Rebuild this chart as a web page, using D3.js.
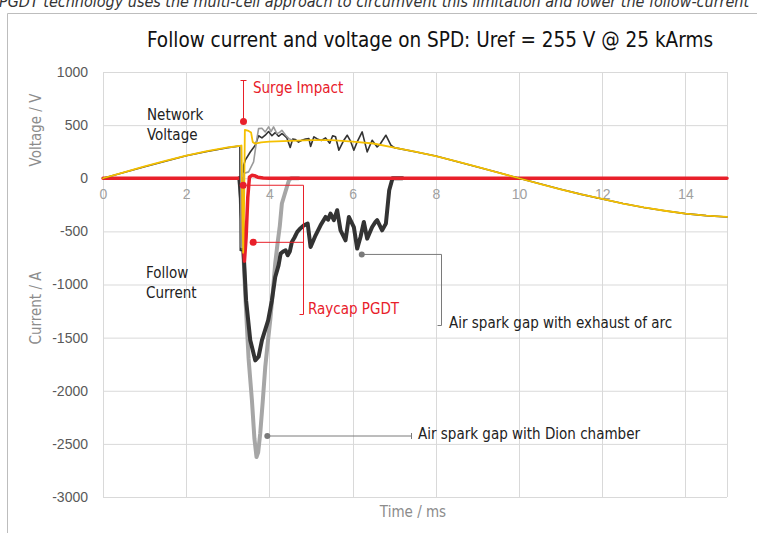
<!DOCTYPE html>
<html>
<head>
<meta charset="utf-8">
<script src="https://cdn.jsdelivr.net/npm/d3@7"></script>
<style>
  html, body { margin: 0; padding: 0; background: #fff; overflow: hidden; }
  svg { display: block; font-family: "DejaVu Sans Condensed", "Liberation Sans Narrow", sans-serif; }
</style>
</head>
<body>
<div id="chart"></div>
<script>
// ── Data ──────────────────────────────────────────────────────
const X_TICKS = [0, 2, 4, 6, 8, 10, 12, 14];
const Y_TICKS = [1000, 500, 0, -500, -1000, -1500, -2000, -2500, -3000];

// Raycap PGDT voltage (yellow, thin)  [ms, V]
const pgdtVoltage = [
  [0, 0], [0.5, 56], [1, 111], [1.5, 163], [2, 214], [2.5, 255], [3, 290], [3.33, 308],
  [3.35, -300], [3.37, -700], [3.39, -300], [3.41, 455], [3.5, 445], [3.56, 430],
  [3.6, 340], [3.66, 326], [3.8, 338], [4, 345], [4.5, 352], [5, 358], [5.5, 358],
  [6, 345], [6.5, 327], [7, 288], [7.5, 250], [8, 209], [8.5, 158], [9, 106],
  [9.5, 54], [10, 0], [10.5, -52], [11, -104], [11.5, -152], [12, -195], [12.5, -238],
  [13, -275], [13.5, -306], [14, -333], [14.5, -352], [15, -364]
];

// Air spark gap with exhaust of arc, voltage (dark, thin)
const exhaustVoltage = [
  [0, 0], [0.5, 54], [1, 108], [1.5, 160], [2, 211], [2.5, 252], [3, 287], [3.29, 304],
  [3.3, -680], [3.36, -680], [3.38, 120], [3.42, 170], [3.54, 247], [3.66, 310],
  [3.74, 400], [3.82, 380], [3.9, 405], [3.98, 440], [4.06, 400], [4.14, 430],
  [4.22, 395], [4.3, 420], [4.35, 405], [4.42, 380], [4.5, 290], [4.56, 370],
  [4.62, 365], [4.7, 340], [4.78, 358], [4.87, 370], [4.95, 373], [4.99, 300],
  [5.07, 390], [5.15, 370], [5.25, 355], [5.35, 380], [5.45, 330], [5.52, 400],
  [5.59, 390], [5.67, 264], [5.79, 358], [5.87, 405], [5.95, 350], [6.03, 264],
  [6.11, 342], [6.23, 436], [6.35, 248], [6.47, 358], [6.59, 295], [6.66, 320],
  [6.8, 405], [6.92, 311], [7, 288], [7.5, 250], [8, 209], [8.5, 158], [9, 106],
  [9.5, 54], [10, 0], [10.5, -52], [11, -104], [11.5, -152], [12, -195], [12.5, -238],
  [13, -275], [13.5, -306], [14, -333], [14.5, -352], [15, -364]
];

// Air spark gap with Dion chamber, voltage (grey, thin)
const dionVoltage = [
  [3, 290], [3.31, 306], [3.32, -650], [3.36, -650], [3.38, 44], [3.5, 60],
  [3.62, 154], [3.7, 373], [3.74, 467], [3.82, 470], [3.9, 436], [3.98, 483],
  [4.04, 440], [4.1, 483], [4.18, 420], [4.24, 430], [4.3, 452], [4.39, 405],
  [4.47, 373], [4.55, 358]
];

// Raycap PGDT current (red, thick)  [ms, A]
const pgdtCurrent = [
  [0, 0], [3.33, 0], [3.36, -450], [3.4, -780], [3.44, -560], [3.48, -180],
  [3.52, 10], [3.58, 28], [3.64, 24], [3.72, 10], [3.85, 3], [4, 0], [15, 0]
];

// Air spark gap with exhaust of arc, current (dark, thick)
const exhaustCurrent = [
  [3.28, 0], [3.32, -200], [3.38, -700], [3.44, -1150], [3.54, -1525], [3.66, -1714],
  [3.74, -1680], [3.82, -1525], [3.97, -1337], [4.06, -1149], [4.14, -929],
  [4.22, -820], [4.27, -709], [4.33, -690], [4.39, -678], [4.44, -725], [4.49, -690],
  [4.54, -600], [4.6, -560], [4.67, -505], [4.75, -470], [4.83, -443], [4.92, -427],
  [4.99, -647], [5.11, -537], [5.23, -443], [5.35, -364], [5.41, -390], [5.47, -333],
  [5.55, -395], [5.63, -301], [5.71, -490], [5.83, -584], [5.91, -364], [6.03, -459],
  [6.11, -662], [6.19, -553], [6.27, -411], [6.35, -568], [6.47, -459], [6.55, -411],
  [6.59, -395], [6.71, -490], [6.8, -427], [6.88, -113], [6.96, 0], [7.2, 0]
];

// Air spark gap with Dion chamber, current (grey, thick)
const dionCurrent = [
  [3.28, 0], [3.34, -400], [3.42, -1100], [3.5, -1700], [3.58, -2090], [3.64, -2450],
  [3.69, -2624], [3.73, -2580], [3.78, -2400], [3.84, -2100], [3.9, -1777],
  [3.96, -1550], [4.02, -1337], [4.08, -1080], [4.14, -800], [4.2, -600],
  [4.25, -450], [4.3, -238], [4.36, -160], [4.42, -82], [4.47, -19], [4.52, 0], [4.7, 0]
];

// Annotation anchors in data units
const surgeDot = [3.36, 535];
const pgdtDots = [[3.37, -66], [3.61, -603]];
const exhaustDot = [6.22, -717];
const dionDot = [3.95, -2426];

// ── Layout ────────────────────────────────────────────────────
const W = 757, H = 533;
const plot = { left: 103, right: 727, top: 72, bottom: 497 };

const svg = d3.select("#chart").append("svg")
  .attr("width", W)
  .attr("height", H);

const x = d3.scaleLinear().domain([0, 15]).range([plot.left, plot.right]);
const y = d3.scaleLinear().domain([-3000, 1000]).range([plot.bottom, plot.top]);

// intro line, cut off at the top of the page like in the source
svg.append("text")
  .attr("x", -1).attr("y", 7)
  .style("font-style", "italic")
  .style("font-size", "16px")
  .style("fill", "#333")
  .text("PGDT technology uses the multi-cell approach to circumvent this limitation and lower the follow-current");

// frame of the figure
svg.append("path")
  .attr("d", `M7.5,${H}V13.5H${W}`)
  .style("fill", "none")
  .style("stroke", "#bdbdbd");

// title
svg.append("text")
  .attr("x", 430).attr("y", 47)
  .attr("text-anchor", "middle")
  .style("font-size", "20.5px")
  .style("fill", "#111")
  .text("Follow current and voltage on SPD: Uref = 255 V @ 25 kArms");

// ── Grid ──────────────────────────────────────────────────────
const grid = svg.append("g").attr("class", "grid");
grid.selectAll("line.h")
  .data(Y_TICKS)
  .join("line")
  .attr("class", "h")
  .attr("x1", plot.left).attr("x2", plot.right)
  .attr("y1", d => y(d) + 0.5).attr("y2", d => y(d) + 0.5);
grid.selectAll("line.v")
  .data(X_TICKS.concat([15]))
  .join("line")
  .attr("class", "v")
  .attr("x1", d => Math.round(x(d)) + 0.5).attr("x2", d => Math.round(x(d)) + 0.5)
  .attr("y1", plot.top).attr("y2", plot.bottom);
grid.selectAll("line")
  .style("stroke", "#d9d9d9")
  .style("stroke-width", 1);

// ── Axes ──────────────────────────────────────────────────────
const plain = d => String(d);   // "-500", not "−500" / "1,000"

const yAxis = svg.append("g")
  .attr("transform", `translate(${plot.left},0)`)
  .call(d3.axisLeft(y).tickValues(Y_TICKS).tickFormat(plain).tickSize(0).tickPadding(15));
yAxis.select(".domain").remove();
yAxis.selectAll("text")
  .style("font-family", "inherit")
  .style("font-size", "14px")
  .style("fill", "#595959");

const xAxis = svg.append("g")
  .attr("transform", `translate(0,${y(0)})`)
  .call(d3.axisBottom(x).tickValues(X_TICKS).tickFormat(plain).tickSize(0).tickPadding(11));
xAxis.select(".domain").remove();
xAxis.selectAll("text")
  .style("font-family", "inherit")
  .style("font-size", "14px")
  .style("fill", "#a0a0a0");

// axis titles
svg.append("text")
  .attr("transform", "translate(41,130) rotate(-90)")
  .attr("text-anchor", "middle")
  .style("font-size", "15px").style("fill", "#8c8c8c")
  .text("Voltage / V");
svg.append("text")
  .attr("transform", "translate(41,308) rotate(-90)")
  .attr("text-anchor", "middle")
  .style("font-size", "15px").style("fill", "#8c8c8c")
  .text("Current / A");
svg.append("text")
  .attr("x", 413).attr("y", 517)
  .attr("text-anchor", "middle")
  .style("font-size", "15px").style("fill", "#8c8c8c")
  .text("Time / ms");

// ── Series ────────────────────────────────────────────────────
const line = d3.line().x(d => x(d[0])).y(d => y(d[1]));
const series = [
  { data: dionCurrent, color: "#a6a6a6", width: 4 },
  { data: exhaustCurrent, color: "#333333", width: 4 },
  { data: pgdtCurrent, color: "#e8202a", width: 3.5 },
  { data: exhaustVoltage, color: "#333333", width: 1.6 },
  { data: dionVoltage, color: "#9a9a9a", width: 1.6 },
  { data: pgdtVoltage, color: "#f5c000", width: 1.8 }
];
svg.append("g")
  .selectAll("path")
  .data(series)
  .join("path")
  .attr("d", d => line(d.data))
  .style("fill", "none")
  .style("stroke", d => d.color)
  .style("stroke-width", d => d.width)
  .style("stroke-linejoin", "round")
  .style("stroke-linecap", "round");

// ── Annotations ───────────────────────────────────────────────
const RED = "#e8202a", LEAD = "#7a7a7a";
const ann = svg.append("g");

function label(tx, ty, lines, color) {
  const t = ann.append("text")
    .attr("x", tx).attr("y", ty)
    .style("font-size", "15px")
    .style("fill", color);
  lines.forEach((s, i) => t.append("tspan").attr("x", tx).attr("dy", i ? 20 : 0).text(s));
}

// Surge impact
const sx = Math.round(x(surgeDot[0])) + 0.5;
ann.append("path")
  .attr("d", `M${sx - 3},80.5H${sx + 3}M${sx},80.5V${y(surgeDot[1])}`)
  .style("stroke", RED).style("fill", "none");
ann.append("circle").attr("cx", sx).attr("cy", y(surgeDot[1])).attr("r", 3.5).style("fill", RED);
label(253, 93, ["Surge Impact"], RED);

// Raycap PGDT bracket
const bx = 303.5;
ann.append("path")
  .attr("d", `M${x(pgdtDots[0][0])},${y(pgdtDots[0][1])}H${bx}V314.5H${bx - 4}` +
             `M${x(pgdtDots[1][0])},${y(pgdtDots[1][1])}H${bx}`)
  .style("stroke", RED).style("fill", "none");
ann.selectAll("circle.pg")
  .data(pgdtDots)
  .join("circle")
  .attr("class", "pg")
  .attr("cx", d => x(d[0])).attr("cy", d => y(d[1])).attr("r", 3.5)
  .style("fill", RED);
label(308, 314, ["Raycap PGDT"], RED);

// Air spark gap with exhaust of arc
const ex = 441.5;
ann.append("path")
  .attr("d", `M${x(exhaustDot[0])},${y(exhaustDot[1])}H${ex}V325.5H${ex - 4}`)
  .style("stroke", LEAD).style("fill", "none");
ann.append("circle").attr("cx", x(exhaustDot[0])).attr("cy", y(exhaustDot[1])).attr("r", 3).style("fill", LEAD);
label(449, 328, ["Air spark gap with exhaust of arc"], "#222");

// Air spark gap with Dion chamber
const dx = 411.5;
ann.append("path")
  .attr("d", `M${x(dionDot[0])},${y(dionDot[1])}H${dx}M${dx},${y(dionDot[1]) - 3}V${y(dionDot[1]) + 3}`)
  .style("stroke", LEAD).style("fill", "none");
ann.append("circle").attr("cx", x(dionDot[0])).attr("cy", y(dionDot[1])).attr("r", 3).style("fill", LEAD);
label(418, 439, ["Air spark gap with Dion chamber"], "#222");

// series labels
label(147, 120, ["Network", "Voltage"], "#222");
label(146, 278, ["Follow", "Current"], "#222");
</script>
</body>
</html>
